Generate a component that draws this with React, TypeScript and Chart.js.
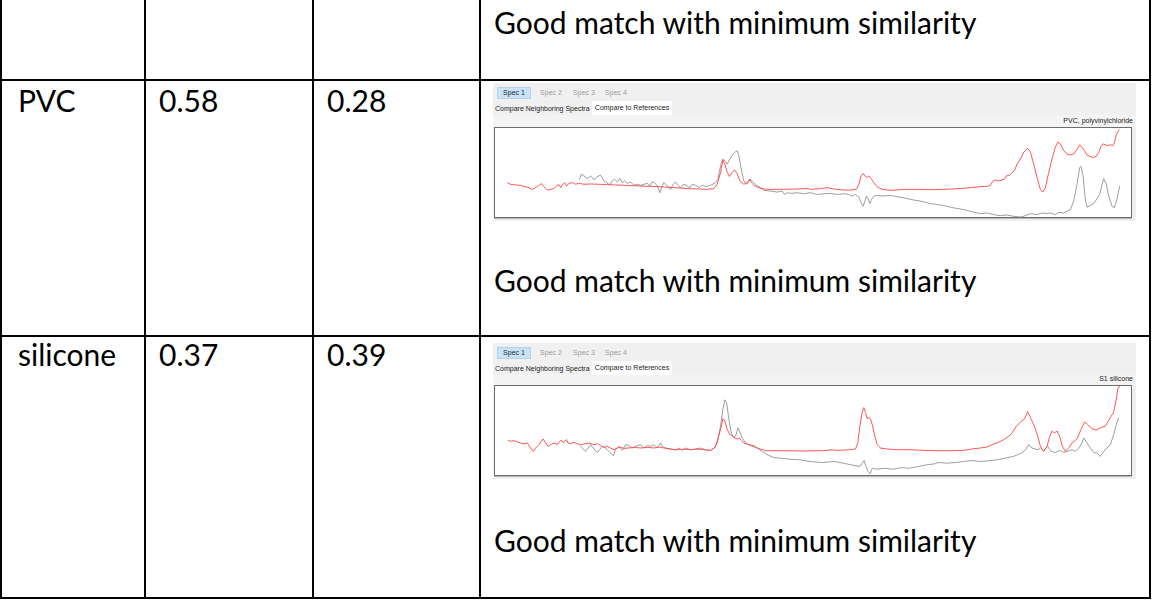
import React, { useEffect, useRef } from "react";
import { Chart, registerables } from "chart.js";

Chart.register(...registerables);

// Table content
const materials = ["PVC", "silicone"];
const scoreFirst = [0.58, 0.37];
const scoreSecond = [0.28, 0.39];
const verdict = "Good match with minimum similarity";
const referenceNames = ["PVC, polyvinylchloride", "S1 silicone"];
const specTabs = ["Spec 1", "Spec 2", "Spec 3", "Spec 4"];
const viewTabs = ["Compare Neighboring Spectra", "Compare to References"];

// Spectrum axis range (channel / counts)
const channelRange = [10, 1925];
const intensityRange = [0, 270];

// PVC row: measured sample (red)
const pvcSampleShift = [
  50, 60, 75, 90, 100, 110, 125, 135, 145, 153, 160, 170, 180, 190, 198, 205, 210, 218, 222, 228, 235, 245, 255, 265, 280,
  300, 350, 400, 450, 500, 550, 600, 650, 670, 680, 690, 697, 703, 710, 717, 725, 732, 740, 748, 760, 770, 777, 783, 790,
  800, 815, 830, 870, 920, 950, 960, 990, 1010, 1025, 1040, 1060, 1080, 1098, 1105, 1112, 1118, 1125, 1130, 1135, 1142,
  1150, 1160, 1175, 1200, 1220, 1240, 1280, 1320, 1360, 1400, 1430, 1450, 1470, 1490, 1500, 1508, 1515, 1525, 1535, 1542,
  1548, 1558, 1565, 1572, 1580, 1590, 1600, 1612, 1620, 1630, 1640, 1650, 1657, 1665, 1675, 1685, 1695, 1702, 1710, 1720,
  1730, 1740, 1750, 1760, 1768, 1775, 1782, 1790, 1800, 1810, 1818, 1825, 1832, 1838, 1845, 1852, 1860, 1868, 1872, 1878,
  1885, 1888,
];
const pvcSampleIntensity = [
  105, 100, 98, 97, 93, 92, 85, 90, 97, 102, 93, 83, 85, 87, 95, 99, 90, 101, 105, 95, 103, 105, 100, 103, 100,
  101, 99, 97, 95, 93, 90, 87, 85, 87, 100, 135, 172, 160, 135, 123, 135, 143, 132, 110, 100, 105, 115, 105, 97,
  92, 87, 85, 85, 86, 88, 85, 87, 90, 87, 85, 83, 83, 85, 100, 125, 132, 123, 120, 125, 117,
  105, 93, 85, 82, 83, 85, 85, 84, 85, 87, 89, 91, 93, 94, 97, 110, 113, 110, 113, 115,
  125, 127, 135, 140, 160, 175, 195, 207, 195, 160, 120, 85, 77, 90, 135, 175, 210, 225, 220, 200,
  190, 187, 190, 203, 217, 210, 200, 187, 182, 180, 183, 195, 213, 220, 217, 215, 217, 215, 223, 247,
  260, 263,
];

// PVC row: library reference (grey)
const pvcReferenceShift = [
  267, 272, 280, 290, 300, 310, 320, 330, 340, 350, 358, 365, 372, 380, 388, 395, 402, 410, 420, 430, 440, 450, 460, 470,
  478, 485, 492, 500, 508, 515, 520, 530, 540, 548, 555, 562, 570, 578, 588, 598, 605, 615, 625, 635, 645, 660, 675, 682,
  690, 697, 703, 710, 718, 725, 733, 740, 745, 752, 760, 768, 775, 780, 790, 800, 810, 820, 840, 860, 875, 882, 890, 900,
  920, 940, 960, 980, 1000, 1020, 1040, 1060, 1075, 1085, 1095, 1105, 1112, 1118, 1123, 1128, 1133, 1138, 1143, 1150,
  1160, 1175, 1200, 1220, 1240, 1260, 1290, 1320, 1340, 1360, 1390, 1420, 1450, 1470, 1490, 1510, 1530, 1550, 1570, 1592,
  1605, 1620, 1640, 1655, 1670, 1680, 1695, 1705, 1720, 1730, 1740, 1750, 1760, 1768, 1772, 1778, 1785, 1790, 1800, 1810,
  1820, 1828, 1835, 1840, 1848, 1855, 1865, 1872, 1880, 1888,
];
const pvcReferenceIntensity = [
  115, 130, 125, 117, 125, 113, 123, 127, 110, 103, 99, 110, 115, 107, 117, 105, 110, 103, 107, 97, 100, 97, 100, 103,
  95, 107, 105, 95, 75, 95, 105, 95, 85, 100, 107, 97, 90, 100, 97, 90, 100, 97, 90, 97, 93, 97, 105, 115,
  155, 175, 170, 160, 175, 187, 195, 200, 185, 145, 110, 100, 107, 115, 105, 95, 90, 82, 80, 77, 80, 70, 75, 73,
  75, 72, 75, 70, 72, 73, 70, 72, 70, 65, 70, 63, 45, 35, 50, 65, 57, 43, 55, 65,
  67, 65, 67, 63, 60, 55, 50, 43, 40, 37, 30, 25, 17, 13, 15, 10, 7, 9, 5, 3,
  7, 13, 10, 15, 13, 15, 10, 17, 15, 20, 25, 50, 100, 150, 153, 125, 55, 32, 37, 43,
  57, 70, 100, 117, 100, 65, 35, 30, 55, 95,
];

// Silicone row: measured sample (red)
const siliconeSampleShift = [
  52, 60, 70, 80, 90, 100, 110, 120, 128, 135, 145, 152, 157, 165, 172, 180, 190, 200, 207, 212, 218, 222, 228, 232,
  240, 250, 260, 270, 280, 295, 310, 320, 330, 340, 350, 360, 370, 380, 390, 400, 415, 430, 450, 470, 490, 505, 520,
  535, 550, 565, 580, 600, 620, 640, 660, 672, 680, 690, 697, 703, 710, 718, 725, 732, 740, 745, 752, 760, 775, 790,
  800, 815, 830, 860, 900, 940, 960, 1000, 1020, 1040, 1060, 1080, 1095, 1102, 1108, 1115, 1120, 1125, 1130, 1135, 1140,
  1145, 1152, 1160, 1170, 1190, 1220, 1260, 1300, 1340, 1380, 1420, 1450, 1470, 1490, 1510, 1525, 1540, 1555, 1565,
  1578, 1590, 1603, 1612, 1620, 1632, 1642, 1650, 1660, 1670, 1678, 1685, 1692, 1700, 1708, 1716, 1725, 1735, 1745,
  1760, 1772, 1782, 1792, 1805, 1818, 1830, 1845, 1860, 1870, 1878, 1882, 1888,
];
const siliconeSampleIntensity = [
  106, 103, 105, 101, 98, 95, 98, 83, 73, 83, 93, 103, 110, 98, 88, 93, 98, 93, 103, 106, 98, 103, 108, 98,
  96, 100, 96, 92, 95, 98, 93, 96, 90, 85, 88, 83, 78, 83, 85, 82, 83, 85, 83, 85, 83, 86, 83,
  81, 78, 78, 80, 78, 80, 78, 76, 83, 103, 138, 170, 163, 138, 123, 120, 113, 110, 113, 106, 98, 93, 90,
  83, 78, 75, 75, 75, 74, 75, 75, 78, 76, 77, 78, 80, 98, 148, 188, 203, 188, 170, 173, 170,
  153, 123, 93, 83, 80, 78, 78, 76, 75, 75, 76, 81, 83, 86, 95, 100, 108, 118, 128,
  148, 160, 170, 191, 173, 148, 118, 88, 73, 88, 118, 133, 128, 133, 118, 88, 73, 83, 98,
  110, 138, 160, 153, 140, 136, 143, 148, 173, 190, 228, 258, 268,
];

// Silicone row: library reference (grey)
const siliconeReferenceShift = [
  270, 285, 300, 310, 320, 335, 345, 355, 368, 375, 385, 395, 405, 415, 425, 435, 450, 460, 470, 480, 490, 500, 510,
  515, 525, 540, 555, 565, 575, 585, 600, 615, 630, 645, 660, 672, 680, 690, 697, 703, 708, 715, 722, 730, 737, 742,
  748, 755, 765, 780, 800, 815, 830, 850, 870, 896, 928, 959, 996, 1033, 1058, 1083, 1108, 1121, 1127, 1133, 1139, 1145,
  1158, 1183, 1208, 1233, 1257, 1282, 1307, 1332, 1345, 1370, 1394, 1419, 1444, 1469, 1494, 1519, 1544, 1569, 1594,
  1606, 1615, 1625, 1643, 1650, 1660, 1672, 1682, 1695, 1708, 1720, 1730, 1745, 1755, 1765, 1775, 1780, 1790, 1800,
  1810, 1820, 1830, 1840, 1850, 1860, 1870, 1878, 1885,
];
const siliconeReferenceIntensity = [
  88, 73, 93, 80, 70, 88, 83, 73, 60, 78, 88, 76, 93, 90, 83, 88, 93, 83, 90, 88, 93, 83, 98,
  88, 83, 80, 78, 83, 76, 83, 78, 80, 83, 78, 76, 83, 98, 148, 198, 226, 218, 168, 128, 113, 123, 143,
  130, 113, 98, 90, 83, 73, 63, 55, 53, 50, 48, 43, 40, 43, 38, 33, 28, 46, 28, 13, 6, 23,
  20, 23, 20, 25, 23, 28, 33, 36, 40, 38, 40, 43, 46, 43, 45, 48, 53, 58, 68,
  78, 93, 83, 78, 83, 76, 88, 73, 70, 76, 70, 73, 78, 73, 83, 98, 113, 98, 83,
  70, 68, 58, 73, 83, 93, 123, 153, 173,
];

const RED = "rgba(255, 72, 72, 0.92)";
const GREY = "rgba(140, 140, 140, 0.85)";

const pts = (xs: number[], ys: number[]) => xs.map((x, i) => ({ x, y: ys[i] }));

type PlotProps = {
  width: number;
  height: number;
  sampleX: number[];
  sampleY: number[];
  refX: number[];
  refY: number[];
};

function SpectrumPlot({ width, height, sampleX, sampleY, refX, refY }: PlotProps) {
  const canvasRef = useRef<HTMLCanvasElement>(null);
  useEffect(() => {
    const chart = new Chart(canvasRef.current as HTMLCanvasElement, {
      type: "line",
      data: {
        datasets: [
          { data: pts(sampleX, sampleY), borderColor: RED, borderWidth: 1, pointRadius: 0, tension: 0, fill: false },
          { data: pts(refX, refY), borderColor: GREY, borderWidth: 1, pointRadius: 0, tension: 0, fill: false },
        ],
      },
      options: {
        responsive: false,
        maintainAspectRatio: false,
        animation: false,
        events: [],
        layout: { padding: 0 },
        plugins: { legend: { display: false }, tooltip: { enabled: false } },
        scales: {
          x: { type: "linear", min: channelRange[0], max: channelRange[1], display: false },
          y: { type: "linear", min: intensityRange[0], max: intensityRange[1], display: false },
        },
      },
    });
    return () => chart.destroy();
  }, []);
  return (
    <canvas
      ref={canvasRef}
      width={width}
      height={height}
      style={{ position: "absolute", left: 0, top: 0, width, height }}
    />
  );
}

const uiFont = "'Liberation Sans', Arial, sans-serif";

type PanelProps = {
  left: number;
  top: number;
  boxTop: number;
  boxHeight: number;
  name: string;
  sampleX: number[];
  sampleY: number[];
  refX: number[];
  refY: number[];
};

function ComparePanel({ left, top, boxTop, boxHeight, name, sampleX, sampleY, refX, refY }: PanelProps) {
  const panelWidth = 643;
  const boxWidth = 638;
  const specLefts = [4, 43, 76, 108];
  return (
    <div
      style={{
        position: "absolute",
        left,
        top,
        width: panelWidth,
        height: boxTop + boxHeight + 3,
        background: "#f0f0f0",
        fontFamily: uiFont,
        fontSize: 7,
        lineHeight: "12px",
      }}
    >
      {specTabs.map((t, i) => (
        <div
          key={t}
          style={{
            position: "absolute",
            left: specLefts[i],
            top: 4,
            width: i === 0 ? 34 : 30,
            height: 12,
            textAlign: "center",
            background: i === 0 ? "#c9e2f6" : "transparent",
            color: i === 0 ? "#1b2a38" : "#9c9c9c",
            boxSizing: "border-box",
            border: i === 0 ? "1px solid #b2d4f0" : "none",
            lineHeight: i === 0 ? "10px" : "12px",
          }}
        >
          {t}
        </div>
      ))}
      <div style={{ position: "absolute", left: 2, top: 19, color: "#222", whiteSpace: "nowrap", lineHeight: "13px" }}>
        {viewTabs[0]}
      </div>
      <div
        style={{
          position: "absolute",
          left: 99,
          top: 18,
          width: 80,
          height: 14,
          background: "#ffffff",
          color: "#222",
          whiteSpace: "nowrap",
          textAlign: "center",
          lineHeight: "13px",
        }}
      >
        {viewTabs[1]}
      </div>
      <div
        style={{
          position: "absolute",
          left: 0,
          top: 32,
          width: panelWidth,
          height: boxTop - 32,
          background: "#f4f4f4",
        }}
      />
      <div
        style={{
          position: "absolute",
          right: 3,
          top: boxTop - 12,
          color: "#222",
          whiteSpace: "nowrap",
          lineHeight: "11px",
        }}
      >
        {name}
      </div>
      <div
        style={{
          position: "absolute",
          left: 1,
          top: boxTop,
          width: boxWidth,
          height: boxHeight,
          boxSizing: "border-box",
          border: "1px solid #6e6e6e",
          background: "#fff",
          boxShadow: "0 1px 0 #b8b8b8",
        }}
      >
        <div style={{ position: "absolute", left: -1, top: -1, width: boxWidth, height: boxHeight }}>
          <SpectrumPlot
            width={boxWidth}
            height={boxHeight}
            sampleX={sampleX}
            sampleY={sampleY}
            refX={refX}
            refY={refY}
          />
        </div>
      </div>
    </div>
  );
}

const cellFont = "Lato, 'Open Sans', sans-serif";

function CellText({ x, y, text }: { x: number; y: number; text: string }) {
  return (
    <div
      style={{
        position: "absolute",
        left: x,
        top: y,
        fontFamily: cellFont,
        fontSize: 30,
        lineHeight: "30px",
        color: "#000",
        whiteSpace: "nowrap",
      }}
    >
      {text}
    </div>
  );
}

export default function App() {
  const vLines = [0, 144, 312, 479, 1149];
  const hLines = [79, 335, 597];
  const rowTextTop = [85, 339];
  const verdictTop = [7, 265, 525];
  return (
    <div
      style={{
        position: "absolute",
        left: 0,
        top: 0,
        width: 1152,
        height: 601,
        background: "#fff",
        overflow: "hidden",
      }}
    >
      {vLines.map((x) => (
        <div key={"v" + x} style={{ position: "absolute", left: x, top: 0, width: 2, height: 599, background: "#000" }} />
      ))}
      {hLines.map((y) => (
        <div key={"h" + y} style={{ position: "absolute", left: 0, top: y, width: 1151, height: 2, background: "#000" }} />
      ))}
      {verdictTop.map((y, i) => (
        <CellText key={"verdict" + i} x={494} y={y} text={verdict} />
      ))}
      {materials.map((m, i) => (
        <React.Fragment key={m}>
          <CellText x={18} y={rowTextTop[i]} text={m} />
          <CellText x={159} y={rowTextTop[i]} text={scoreFirst[i].toFixed(2)} />
          <CellText x={327} y={rowTextTop[i]} text={scoreSecond[i].toFixed(2)} />
        </React.Fragment>
      ))}
      <ComparePanel
        left={493}
        top={83}
        boxTop={44}
        boxHeight={91}
        name={referenceNames[0]}
        sampleX={pvcSampleShift}
        sampleY={pvcSampleIntensity}
        refX={pvcReferenceShift}
        refY={pvcReferenceIntensity}
      />
      <ComparePanel
        left={493}
        top={343}
        boxTop={42}
        boxHeight={91}
        name={referenceNames[1]}
        sampleX={siliconeSampleShift}
        sampleY={siliconeSampleIntensity}
        refX={siliconeReferenceShift}
        refY={siliconeReferenceIntensity}
      />
    </div>
  );
}
